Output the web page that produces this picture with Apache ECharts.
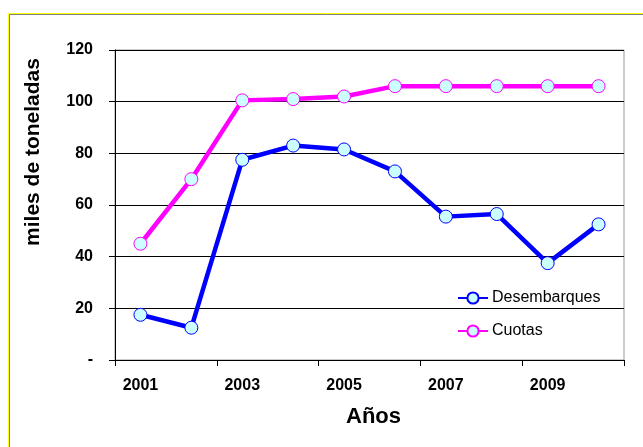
<!DOCTYPE html>
<html>
<head>
<meta charset="utf-8">
<script src="https://cdn.jsdelivr.net/npm/echarts@6/dist/echarts.min.js"></script>
<style>
  html, body { margin: 0; padding: 0; background: #fff; }
  #chart { width: 643px; height: 447px; }
</style>
</head>
<body>
<div id="chart"></div>
<script>
// datos
const years = ['2001', '2002', '2003', '2004', '2005', '2006', '2007', '2008', '2009', '2010'];
const desembarques = [17.5, 12.5, 77.5, 83, 81.5, 73, 55.5, 56.5, 37.5, 52.5];
const cuotas = [45, 70, 100.5, 101, 102, 106, 106, 106, 106, 106];

const chart = echarts.init(document.getElementById('chart'));

const bold = { fontFamily: 'Liberation Sans, Arial', fontWeight: 'bold', color: '#000' };

function lineSeries(name, data, color) {
  return {
    name: name,
    type: 'line',
    data: data,
    symbol: 'circle',
    symbolSize: 13,
    lineStyle: { color: color, width: 4.5 },
    itemStyle: { color: '#ccffff', borderColor: color, borderWidth: 1 },
    emphasis: { disabled: true },
    z: 3
  };
}

const option = {
  animation: false,
  backgroundColor: '#fff',
  graphic: [
    // marco exterior
    { type: 'rect', shape: { x: 8.5, y: 13.5, width: 700, height: 500 },
      style: { fill: 'none', stroke: '#ffff00', lineWidth: 1 }, silent: true },
    { type: 'rect', shape: { x: 9.5, y: 14.5, width: 700, height: 500 },
      style: { fill: 'none', stroke: '#808080', lineWidth: 1 }, silent: true }
  ],
  grid: { left: 115, right: 19, top: 50, bottom: 87, show: true, borderColor: '#999', borderWidth: 1 },
  legend: {
    orient: 'vertical',
    left: 452,
    top: 285,
    itemWidth: 30,
    itemHeight: 14,
    itemGap: 17,
    textStyle: { fontFamily: 'Liberation Sans, Arial', fontSize: 16, color: '#000', padding: [0, 0, 0, -1] },
    data: ['Desembarques', 'Cuotas']
  },
  xAxis: {
    type: 'category',
    data: years,
    boundaryGap: true,
    name: 'Años',
    nameLocation: 'middle',
    nameGap: 46,
    nameTextStyle: Object.assign({ fontSize: 22, padding: [0, 0, 0, 8] }, bold),
    axisLine: { lineStyle: { color: '#000', width: 1 } },
    axisTick: { show: true, length: 6, inside: false, lineStyle: { color: '#000' } },
    axisLabel: Object.assign({ interval: 1, fontSize: 16, margin: 18 }, bold),
    splitLine: { show: false }
  },
  yAxis: {
    type: 'value',
    min: 0,
    max: 120,
    interval: 20,
    name: 'miles de toneladas',
    nameLocation: 'middle',
    nameGap: 71,
    nameTextStyle: Object.assign({ fontSize: 21, padding: [0, 0, 0, 106] }, bold),
    axisLine: { show: true, lineStyle: { color: '#000', width: 1 } },
    axisTick: { show: true, length: 6, lineStyle: { color: '#000' } },
    axisLabel: Object.assign({
      fontSize: 16, margin: 22,
      formatter: v => v === 0 ? '-' : String(v)
    }, bold),
    splitLine: { show: true, lineStyle: { color: '#000', width: 1 } }
  },
  series: [
    lineSeries('Desembarques', desembarques, '#0000ff'),
    lineSeries('Cuotas', cuotas, '#ff00ff')
  ]
};

chart.setOption(option);
</script>
</body>
</html>
